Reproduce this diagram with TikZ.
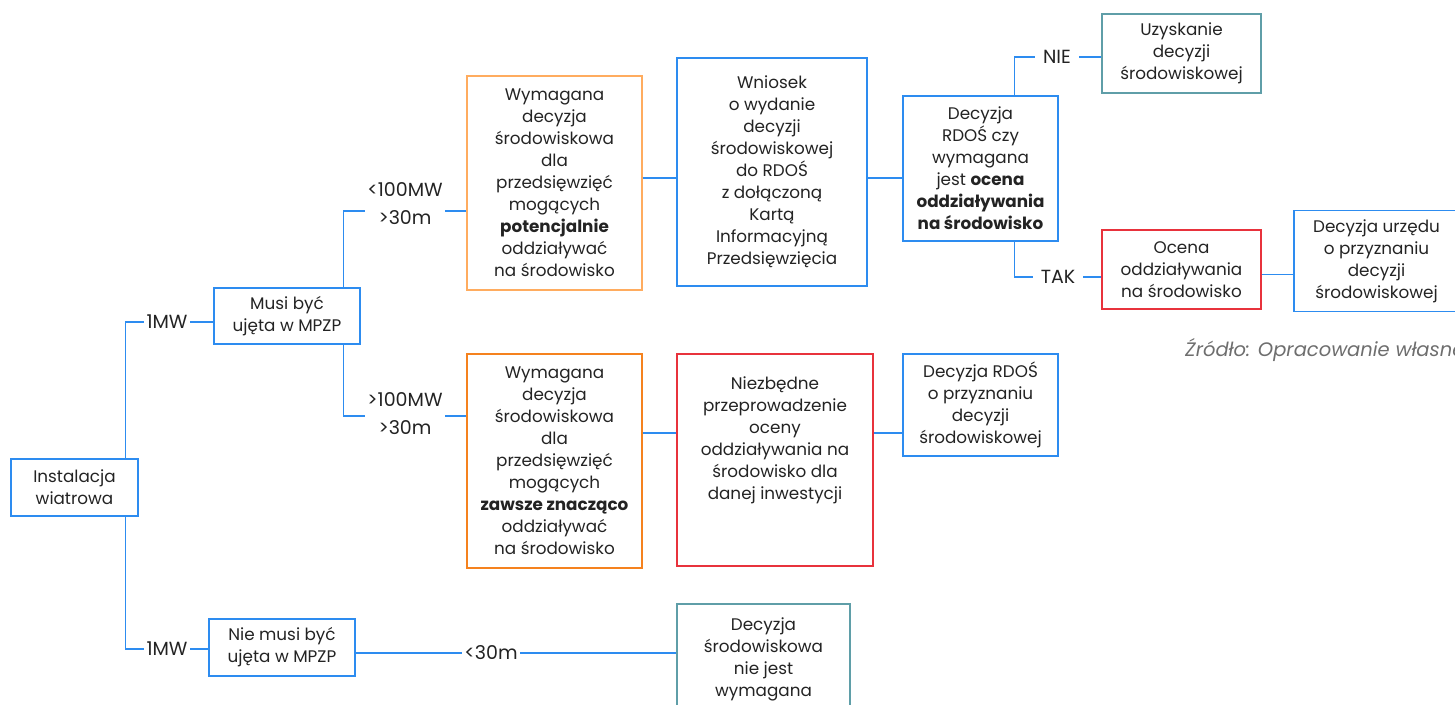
\documentclass[tikz,border=0pt]{standalone}
\usepackage{fontspec}
\setmainfont{Poppins}
\definecolor{bblue}{RGB}{45,140,240}
\definecolor{orlight}{RGB}{255,172,95}
\definecolor{ordark}{RGB}{245,130,30}
\definecolor{bred}{RGB}{232,50,60}
\definecolor{tealb}{RGB}{95,158,168}
\definecolor{txt}{RGB}{35,35,35}
\definecolor{srcgray}{RGB}{110,110,110}
\newcommand{\fs}{\fontsize{16.8}{22}\selectfont}
\begin{document}
\begin{tikzpicture}[x=1pt,y=-1pt,
  box/.style={draw=#1, line width=1.4pt, align=center, font=\fs, text=txt, inner sep=3pt},
  conn/.style={draw=bblue, line width=1.4pt},
  lbl/.style={font=\fontsize{19}{28}\selectfont, text=txt, inner sep=2.5pt, align=center},
  widelbl/.style={lbl, inner xsep=8pt}]
\useasboundingbox (0,0) rectangle (1455,704);
\clip (0,0) rectangle (1455,704);
% boxes
\node[box=bblue, minimum width=127pt, minimum height=57pt] (inst) at (74.5,487.5) {Instalacja\\wiatrowa};
\node[box=bblue, minimum width=146pt, minimum height=56pt] (musi) at (287,316) {Musi być\\ujęta w MPZP};
\node[box=bblue, minimum width=146pt, minimum height=57pt] (nie) at (282,647.5) {Nie musi być\\ujęta w MPZP};
\node[box=orlight, minimum width=175pt, minimum height=214pt] (or1) at (554.5,183) {Wymagana\\decyzja\\środowiskowa\\dla\\przedsięwzięć\\mogących\\\textbf{potencjalnie}\\oddziaływać\\na środowisko};
\node[box=bblue, minimum width=190pt, minimum height=228pt] (wn) at (772,172) {Wniosek\\o wydanie\\decyzji\\środowiskowej\\do RDOŚ\\z dołączoną\\Kartą\\Informacyjną\\Przedsięwzięcia};
\node[box=bblue, minimum width=155pt, minimum height=145pt] (rd) at (980.5,168.5) {Decyzja\\RDOŚ czy\\wymagana\\jest \textbf{ocena}\\\textbf{oddziaływania}\\\textbf{na środowisko}};
\node[box=tealb, minimum width=159pt, minimum height=79pt] (uz) at (1181.5,53.5) {Uzyskanie\\decyzji\\środowiskowej};
\node[box=bred, minimum width=159pt, minimum height=79pt] (oc) at (1181.5,269.5) {Ocena\\oddziaływania\\na środowisko};
\node[box=bblue, minimum width=165pt, minimum height=101pt] (du) at (1376.5,261) {Decyzja urzędu\\o przyznaniu\\decyzji\\środowiskowej};
\node[box=ordark, minimum width=175pt, minimum height=214pt] (or2) at (554.5,461) {Wymagana\\decyzja\\środowiskowa\\dla\\przedsięwzięć\\mogących\\\textbf{zawsze znacząco}\\oddziaływać\\na środowisko};
\node[box=bred, minimum width=196pt, minimum height=212pt] (nz) at (775,460) {Niezbędne\\przeprowadzenie\\oceny\\oddziaływania na\\środowisko dla\\danej inwestycji\\[22pt]\mbox{}};
\node[box=bblue, minimum width=155pt, minimum height=102pt] (dr) at (980.5,405) {Decyzja RDOŚ\\o przyznaniu\\decyzji\\środowiskowej};
\node[box=tealb, minimum width=173pt, minimum height=110pt] (nw) at (763.5,659) {Decyzja\\środowiskowa\\nie jest\\wymagana};
% labels
\node[lbl] (l1) at (167,322) {1MW};
\node[lbl] (l2) at (167,649) {1MW};
\node[lbl] (l3) at (405,204) {<100MW\\>30m};
\node[lbl] (l4) at (405,414) {>100MW\\>30m};
\node[lbl] (l5) at (491,653) {<30m};
\node[widelbl] (nieL) at (1057,57) {NIE};
\node[widelbl] (takL) at (1058,277) {TAK};
\node[anchor=west, font=\fontsize{19.5}{22}\selectfont\itshape, text=srcgray, inner sep=0pt] (src) at (1185,350) {Źródło: Opracowanie własne};
% connectors
\draw[conn] ([xshift=-13.5pt]inst.north east) |- (l1.west);
\draw[conn] (l1.east) -- (l1.east -| musi.west);
\draw[conn] ([xshift=-13.5pt]inst.south east) |- (l2.west);
\draw[conn] (l2.east) -- (l2.east -| nie.west);
\draw[conn] ([xshift=-17pt]musi.north east) |- ([yshift=-7pt]l3.west);
\draw[conn] ([yshift=-7pt]l3.east) -- ([yshift=-7pt]l3.east -| or1.west);
\draw[conn] ([xshift=-17pt]musi.south east) |- ([yshift=-2pt]l4.west);
\draw[conn] ([yshift=-2pt]l4.east) -- ([yshift=-2pt]l4.east -| or2.west);
\draw[conn] ([yshift=5pt]or1.east) -- ([yshift=5pt]or1.east -| wn.west);
\draw[conn] ([yshift=-6pt]wn.east) -- ([yshift=-6pt]wn.east -| rd.west);
\draw[conn] ([xshift=-44pt]rd.north east) |- (nieL.west);
\draw[conn] (nieL.east) -- (nieL.east -| uz.west);
\draw[conn] ([xshift=-44pt]rd.south east) |- (takL.west);
\draw[conn] (takL.east) -- (takL.east -| oc.west);
\draw[conn] ([yshift=-5pt]oc.east) -- ([yshift=-5pt]oc.east -| du.west);
\draw[conn] ([yshift=28pt]or2.east) -- ([yshift=28pt]or2.east -| nz.west);
\draw[conn] ([yshift=27pt]nz.east) -- ([yshift=27pt]nz.east -| dr.west);
\draw[conn] (l5.west -| nie.east) -- (l5.west);
\draw[conn] (l5.east) -- (l5.east -| nw.west);
\end{tikzpicture}
\end{document}
